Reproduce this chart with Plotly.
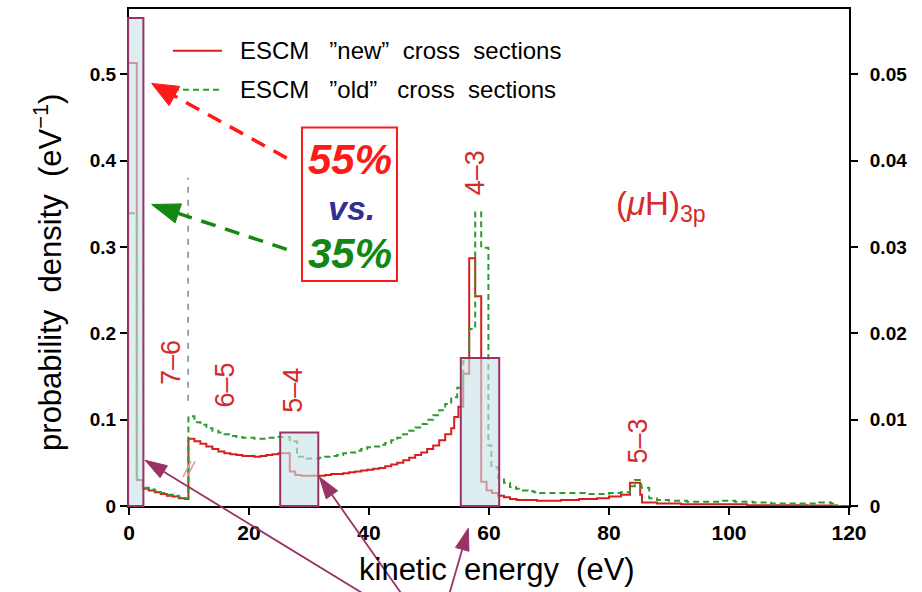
import math
import plotly.graph_objects as go

# ---------------- data ----------------
# left edges of histogram bins (eV) and probability density (eV^-1)
new_edges = [0.0, 1.3, 2.3, 3.3, 4.3, 5.3, 6.3, 7.3, 8.3, 9.3,
             9.9, 10.9, 11.9, 12.9, 13.9, 14.9, 15.9, 16.9, 17.9, 18.9,
             19.9, 20.9, 21.9, 22.9, 23.9, 24.9, 25.9, 26.8, 27.7, 28.7,
             29.7, 30.7, 31.7, 32.7, 33.7, 34.7, 35.7, 36.7, 37.7, 38.7,
             39.7, 40.7, 41.7, 42.7, 43.7, 44.7, 45.7, 46.7, 47.7, 48.7,
             49.7, 50.7, 51.7, 52.7, 53.7, 54.2, 54.9, 55.7, 56.7, 57.7,
             58.7, 59.6, 60.5, 61.5, 62.5, 63.5, 64.6, 68.0, 72.0, 75.0,
             78.0, 80.0, 82.0, 83.5, 85.2, 85.5, 88.0, 92.0, 96.0, 100.0,
             103.0, 108.0, 113.0, 118.0]
new_vals = [0.513, 0.030, 0.020, 0.018, 0.016, 0.014, 0.012, 0.011, 0.009, 0.008,
            0.078, 0.075, 0.072, 0.069, 0.066, 0.063, 0.061, 0.060, 0.059, 0.058,
            0.058, 0.057, 0.058, 0.059, 0.060, 0.061, 0.061, 0.040, 0.036, 0.035,
            0.035, 0.035, 0.035, 0.036, 0.037, 0.037, 0.038, 0.039, 0.040, 0.041,
            0.042, 0.043, 0.044, 0.046, 0.048, 0.050, 0.053, 0.056, 0.059, 0.062,
            0.066, 0.070, 0.076, 0.083, 0.090, 0.103, 0.115, 0.153, 0.287, 0.243,
            0.028, 0.018, 0.015, 0.012, 0.010, 0.008, 0.007, 0.006, 0.007, 0.008,
            0.009, 0.011, 0.013, 0.027, 0.013, 0.004, 0.003, 0.002, 0.002, 0.002,
            0.001, 0.001, 0.0005, 0.0]

old_edges = [0.0, 1.3, 2.3, 3.3, 4.3, 5.3, 6.3, 7.3, 8.3, 9.3,
             9.9, 10.9, 11.9, 12.9, 13.9, 14.9, 15.9, 16.9, 17.9, 18.9,
             19.9, 20.9, 21.9, 22.9, 23.9, 24.9, 25.9, 26.8, 28.0, 29.6,
             30.6, 31.7, 32.7, 33.7, 34.7, 35.7, 36.7, 37.7, 38.7, 39.7,
             40.7, 41.7, 42.7, 43.7, 44.7, 45.7, 46.7, 47.7, 48.7, 49.7,
             50.7, 51.7, 52.7, 53.7, 54.7, 55.7, 56.7, 57.7, 58.7, 59.9,
             60.4, 61.5, 62.5, 63.5, 64.5, 65.5, 66.5, 67.5, 68.5, 72.0,
             76.0, 80.0, 82.0, 83.5, 84.3, 85.4, 86.7, 88.0, 90.0, 93.0,
             99.0, 101.0, 104.0, 107.0, 113.0, 115.0, 117.0, 118.0]
old_vals = [0.339, 0.031, 0.021, 0.019, 0.017, 0.015, 0.013, 0.012, 0.010, 0.009,
            0.104, 0.097, 0.094, 0.090, 0.087, 0.085, 0.083, 0.081, 0.080, 0.079,
            0.079, 0.078, 0.078, 0.079, 0.079, 0.080, 0.080, 0.075, 0.057, 0.055,
            0.055, 0.056, 0.057, 0.058, 0.059, 0.061, 0.062, 0.064, 0.066, 0.068,
            0.069, 0.071, 0.073, 0.076, 0.079, 0.083, 0.087, 0.091, 0.095, 0.100,
            0.105, 0.111, 0.118, 0.126, 0.137, 0.168, 0.205, 0.340, 0.299, 0.070,
            0.045, 0.032, 0.027, 0.022, 0.020, 0.018, 0.017, 0.016, 0.015, 0.015,
            0.014, 0.015, 0.016, 0.023, 0.030, 0.021, 0.009, 0.007, 0.006, 0.005,
            0.006, 0.005, 0.004, 0.003, 0.003, 0.004, 0.003, 0.0]

x_tick_vals = [0, 20, 40, 60, 80, 100, 120]
y_tick_vals = [0, 0.1, 0.2, 0.3, 0.4, 0.5]
y_tick_text = ["0", "0.1", "0.2", "0.3", "0.4", "0.5"]
y2_tick_vals = [0, 0.01, 0.02, 0.03, 0.04, 0.05]
y2_tick_text = ["0", "0.01", "0.02", "0.03", "0.04", "0.05"]

transition_labels = ["7–6", "6–5", "5–4", "4–3", "5–3"]
legend_labels = ["ESCM\u00a0\u00a0\u00a0”new”\u00a0\u00a0cross\u00a0\u00a0sections",
                 "ESCM\u00a0\u00a0\u00a0”old”\u00a0\u00a0\u00a0cross\u00a0\u00a0sections"]
share_texts = ["55%", "vs.", "35%"]

# ---------------- layout geometry ----------------
W, H = 922, 592
ML, MR, MT, MB = 129, 73, 7, 86
PW, PH = W - ML - MR, H - MT - MB
X_MAX = 120.0
Y_MAX = 0.5755
BASE = H - MB

RED_LINE = "#d62020"
GREEN_LINE = "#2e9b2e"
LABEL_RED = "#d42a2a"
PURPLE = "#993366"
FONT = "Liberation Sans, Arial, sans-serif"


def pp(xpix, ypix):
    """pixel -> paper"""
    return (xpix - ML) / PW, (BASE - ypix) / PH


def dp(x, y):
    """data -> paper"""
    return x / X_MAX, y / Y_MAX


def steps(edges, vals):
    return list(edges) + [X_MAX], list(vals) + [vals[-1]]


fig = go.Figure()
xs, ys = steps(new_edges, new_vals)
fig.add_trace(go.Scatter(x=xs, y=ys, mode="lines", line_shape="hv",
                         line=dict(color=RED_LINE, width=2), name="new"))
xs, ys = steps(old_edges, old_vals)
fig.add_trace(go.Scatter(x=xs, y=ys, mode="lines", line_shape="hv",
                         line=dict(color=GREEN_LINE, width=2, dash="6px,4px"), name="old"))
fig.add_trace(go.Scatter(x=[0], y=[0], yaxis="y2", mode="markers", marker=dict(opacity=0),
                         showlegend=False, hoverinfo="skip"))

shapes = []
annotations = []


def line_px(p0, p1, color, width, dash=None):
    x0, y0 = pp(*p0)
    x1, y1 = pp(*p1)
    d = dict(type="line", xref="paper", yref="paper", x0=x0, y0=y0, x1=x1, y1=y1,
             line=dict(color=color, width=width), layer="above")
    if dash:
        d["line"]["dash"] = dash
    shapes.append(d)


def arrow_px(tip, tail, color, width, hl, hw, dash=None):
    dx, dy = tail[0] - tip[0], tail[1] - tip[1]
    n = math.hypot(dx, dy)
    ux, uy = dx / n, dy / n
    base = (tip[0] + ux * hl, tip[1] + uy * hl)
    line_px(tail, base, color, width, dash)
    px_, py_ = -uy, ux
    c1 = (ux * hl + px_ * hw, uy * hl + py_ * hw)
    c2 = (ux * hl - px_ * hw, uy * hl - py_ * hw)
    path = "M0,0 L%.2f,%.2f L%.2f,%.2f Z" % (c1[0], -c1[1], c2[0], -c2[1])
    ax, ay = pp(*tip)
    shapes.append(dict(type="path", xref="paper", yref="paper", xsizemode="pixel",
                       ysizemode="pixel", xanchor=ax, yanchor=ay, path=path,
                       fillcolor=color, line=dict(color=color, width=1), layer="above"))


# highlighted boxes
for (x0, x1, y1) in [(-0.15, 2.4, 0.565), (25.2, 31.55, 0.085), (55.3, 61.7, 0.1715)]:
    a0, b0 = dp(x0, 0)
    a1, b1 = dp(x1, y1)
    shapes.append(dict(type="rect", xref="paper", yref="paper", x0=a0, y0=b0, x1=a1, y1=b1,
                       fillcolor="rgba(200,226,230,0.62)", line=dict(color=PURPLE, width=2),
                       layer="above"))

# vertical threshold dashed line at 10 eV
a, b0 = dp(9.85, 0.122)
_, b1 = dp(9.85, 0.38)
shapes.append(dict(type="line", xref="paper", yref="paper", x0=a, x1=a, y0=b0, y1=b1,
                   line=dict(color="#666666", width=1.2, dash="6px,7px"), layer="above"))
# break marks //
line_px((183, 477), (191, 461), "#e29a9a", 1.5)
line_px((187, 477), (195, 461), "#e29a9a", 1.5)

# legend
line_px((173, 49), (222, 49), RED_LINE, 2)
line_px((173, 88), (222, 88), GREEN_LINE, 2, "6px,4px")
for txt, ypix in zip(legend_labels, [49, 88]):
    x, y = pp(238, ypix)
    annotations.append(dict(text=txt, x=x, y=y, xref="paper", yref="paper",
                            xanchor="left", yanchor="middle", showarrow=False,
                            font=dict(family=FONT, size=24, color="black")))

# percentage box
x0, y0 = pp(302, 280)
x1, y1 = pp(397, 126)
shapes.append(dict(type="rect", xref="paper", yref="paper", x0=x0, y0=y0, x1=x1, y1=y1,
                   fillcolor="white", line=dict(color="#ff1a1a", width=2), layer="above"))
for txt, (xp, yp), col, size in zip(share_texts, [(350, 158), (351, 207), (350, 252)],
                                    ["#ff1a1a", "#2e3192", "#128712"], [42, 34, 42]):
    x, y = pp(xp, yp)
    annotations.append(dict(text="<b><i>%s</i></b>" % txt, x=x, y=y, xref="paper", yref="paper",
                            xanchor="center", yanchor="middle", showarrow=False,
                            font=dict(family=FONT, size=size, color=col)))

# dashed arrows
arrow_px((151.7, 81.7), (286.7, 156.7), "#ff1a1a", 3.5, 26, 11, "15px,10px")
arrow_px((151.7, 203.3), (286.7, 248.3), "#128712", 3.5, 28, 10, "15px,10px")

# purple arrows from below
arrow_px((145, 460), (373, 600), PURPLE, 1.8, 22, 7)
arrow_px((319.3, 476.7), (405.6, 600), PURPLE, 1.8, 22, 7)
arrow_px((468.3, 528.3), (447.7, 600), PURPLE, 1.8, 22, 7)

# transition labels
for txt, (xp, yp) in zip(transition_labels,
                         [(171.7, 361.7), (225, 385), (293.3, 390), (475, 172), (638.3, 441)]):
    x, y = pp(xp, yp)
    annotations.append(dict(text=txt, x=x, y=y, xref="paper", yref="paper", textangle=-90,
                            xanchor="center", yanchor="middle", showarrow=False,
                            font=dict(family=FONT, size=27, color=LABEL_RED)))

# (muH)3p label
x, y = pp(614, 205)
annotations.append(dict(text="(<i>μ</i>H)<sub>3p</sub>", x=x, y=y, xref="paper", yref="paper",
                        xanchor="left", yanchor="middle", showarrow=False,
                        font=dict(family=FONT, size=33, color=LABEL_RED)))

# axis titles
x, y = pp(48, 272)
annotations.append(dict(text="probability\u00a0\u00a0density\u00a0\u00a0(eV<sup>−1</sup>)",
                        x=x, y=y, xref="paper", yref="paper", textangle=-90,
                        xanchor="center", yanchor="middle", showarrow=False,
                        font=dict(family=FONT, size=31, color="black")))
x, y = pp(497, 570)
annotations.append(dict(text="kinetic\u00a0\u00a0energy\u00a0\u00a0(eV)",
                        x=x, y=y, xref="paper", yref="paper",
                        xanchor="center", yanchor="middle", showarrow=False,
                        font=dict(family=FONT, size=31, color="black")))

axis_common = dict(showgrid=False, zeroline=False, showline=True, linecolor="black",
                   linewidth=2, ticks="outside", ticklen=7, tickwidth=2, tickcolor="black")

fig.update_layout(
    width=W, height=H,
    margin=dict(l=ML, r=MR, t=MT, b=MB, pad=0),
    paper_bgcolor="white", plot_bgcolor="white",
    showlegend=False,
    xaxis=dict(range=[0, X_MAX], tickvals=x_tick_vals, mirror=True,
               tickfont=dict(family=FONT, size=21, color="black", weight="bold"), **axis_common),
    yaxis=dict(range=[0, Y_MAX], tickvals=y_tick_vals, ticktext=y_tick_text,
               tickfont=dict(family=FONT, size=19, color="black", weight="bold"), **axis_common),
    yaxis2=dict(range=[0, Y_MAX / 10], tickvals=y2_tick_vals, ticktext=y2_tick_text,
                overlaying="y", side="right", ticklabelstandoff=8,
                tickfont=dict(family=FONT, size=19, color="black", weight="bold"), **axis_common),
    shapes=shapes,
    annotations=annotations,
)

fig.write_html("out.html", config={"displayModeBar": False},
               post_script="document.body.style.margin='0';document.body.style.overflow='hidden';")
